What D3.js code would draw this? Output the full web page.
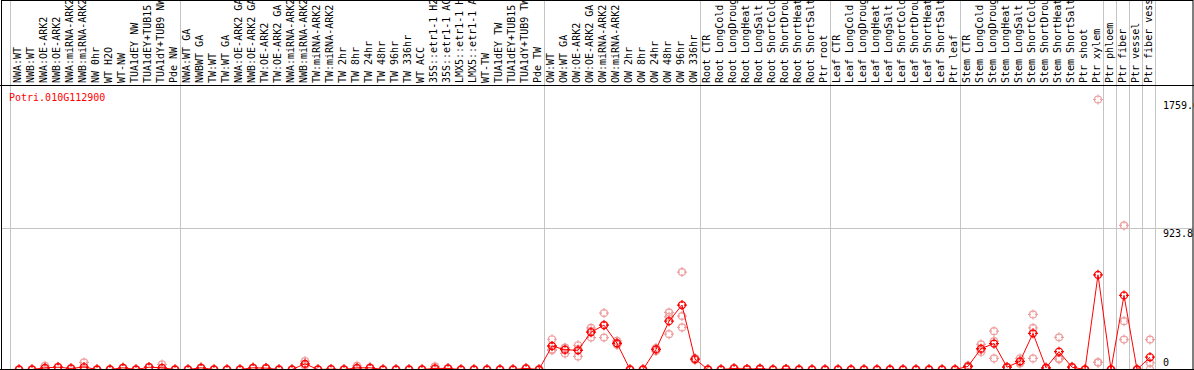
<!DOCTYPE html>
<html>
<head>
<meta charset="utf-8">
<script src="https://cdn.jsdelivr.net/npm/d3@7"></script>
<style>
  body { margin: 0; background: #fff; }
  svg { display: block; }
  text { font-family: "DejaVu Sans Mono", monospace; font-size: 10px; }
</style>
</head>
<body>
<svg id="chart" width="1194" height="370"></svg>
<script>
const gene = 'Potri.010G112900';

const samples = [
  'NWA:WT', 'NWB:WT', 'NWA:OE-ARK2', 'NWB:OE-ARK2', 'NWA:miRNA-ARK2', 'NWB:miRNA-ARK2',
  'NW 0hr', 'WT H2O', 'WT-NW', 'TUA1dEY NW', 'TUA1dEY+TUB15', 'TUA1dY+TUB9 NW', 'Pde NW',
  'NWA:WT GA', 'NWBWT GA', 'TW:WT', 'TW:WT GA', 'NWA:OE-ARK2 GA', 'NWB:OE-ARK2 GA',
  'TW:OE-ARK2', 'TW:OE-ARK2 GA', 'NWA:miRNA-ARK2', 'NWB:miRNA-ARK2', 'TW:miRNA-ARK2',
  'TW:miRNA-ARK2', 'TW 2hr', 'TW 8hr', 'TW 24hr', 'TW 48hr', 'TW 96hr', 'TW 336hr',
  'WT ACC', '35S::etr1-1 H2O', '35S::etr1-1 ACC', 'LMX5::etr1-1 H2O', 'LMX5::etr1-1 ACC',
  'WT-TW', 'TUA1dEY TW', 'TUA1dEY+TUB15', 'TUA1dY+TUB9 TW', 'Pde TW',
  'OW:WT', 'OW:WT GA', 'OW:OE-ARK2', 'OW:OE-ARK2 GA', 'OW:miRNA-ARK2', 'OW:miRNA-ARK2',
  'OW 2hr', 'OW 8hr', 'OW 24hr', 'OW 48hr', 'OW 96hr', 'OW 336hr',
  'Root CTR', 'Root LongCold', 'Root LongDrought', 'Root LongHeat', 'Root LongSalt',
  'Root ShortCold', 'Root ShortDrought', 'Root ShortHeat', 'Root ShortSalt', 'Ptr root',
  'Leaf CTR', 'Leaf LongCold', 'Leaf LongDrought', 'Leaf LongHeat', 'Leaf LongSalt',
  'Leaf ShortCold', 'Leaf ShortDrought', 'Leaf ShortHeat', 'Leaf ShortSalt', 'Ptr leaf',
  'Stem CTR', 'Stem LongCold', 'Stem LongDrought', 'Stem LongHeat', 'Stem LongSalt',
  'Stem ShortCold', 'Stem ShortDrought', 'Stem ShortHeat', 'Stem ShortSalt', 'Ptr shoot',
  'Ptr xylem', 'Ptr phloem', 'Ptr fiber', 'Ptr vessel', 'Ptr fiber vessel'
];

// index of the first sample of each group (last entry = end)
const groupBreaks = [0, 13, 41, 53, 63, 73, 84, 85, 86, 87, 88];

const means = [
  0, 0, 11, 15, 7, 16, 0, 0, 11, 0, 15, 11, 0,
  0, 11, 0, 0, 0, 11, 9, 0, 0, 37, 0, 2, 0, 11, 11, 0, 0, 0, 0, 7, 7, 0, 0, 0, 0, 0, 7, 0,
  153, 129, 125, 243, 289, 171, 0, 0, 131, 315, 420, 68,
  0, 0, 7, 3, 5, 0, 3, 0, 0, 0,
  0, 0, 0, 0, 0, 0, 0, 0, 0, 0,
  20, 136, 169, 15, 53, 236, 11, 116, 15, 0, 617,
  0, 483, 0, 80
];

const reps = [
  [0, 0, 0], [0, 0, 0], [24, 6, 3], [18, 14, 13], [9, 6, 6], [46, 1, 1], [0, 0, 0],
  [0, 0, 0], [13, 10, 10], [0, 0, 0], [17, 15, 13], [33, 0, 0], [0, 0, 0],
  [0, 0, 0], [14, 10, 9], [0, 0, 0], [0, 0, 0], [0, 0, 0], [13, 11, 9], [11, 9, 7],
  [0, 0, 0], [0, 0, 0], [55, 30, 26], [0, 0, 0], [3, 2, 1], [0, 0, 0], [24, 5, 4],
  [14, 10, 9], [0, 0, 0], [0, 0, 0], [0, 0, 0], [0, 0, 0], [20, 1, 0], [8, 7, 6],
  [0, 0, 0], [0, 0, 0], [0, 0, 0], [0, 0, 0], [0, 0, 0], [8, 7, 6], [0, 0, 0],
  [197, 131, 125], [140, 105, 142], [158, 85, 132], [271, 208, 250], [368, 208, 291],
  [186, 165, 162], [0, 0, 0], [0, 0, 0], [140, 120, 133], [372, 230, 343],
  [635, 348, 274], [75, 62, 67],
  [0, 0, 0], [0, 0, 0], [9, 7, 5], [4, 3, 2], [6, 5, 4], [0, 0, 0], [4, 3, 2],
  [0, 0, 0], [0, 0, 0], [0, 0, 0],
  [0, 0, 0], [0, 0, 0], [0, 0, 0], [0, 0, 0], [0, 0, 0], [0, 0, 0], [0, 0, 0],
  [0, 0, 0], [0, 0, 0], [0, 0, 0],
  [26, 18, 16], [164, 114, 130], [250, 72, 185], [18, 14, 13], [72, 48, 39],
  [359, 271, 72], [12, 11, 10], [210, 72, 66], [18, 15, 12], [0, 0, 0], [1759.6, 46, 46],
  [0, 0, 0], [939, 315, 195], [0, 0, 0], [195, 44, 0]
];

const W = 1194, H = 370;
const headerY = 86;
const plotLeft = 11, plotRight = 1155;

const svg = d3.select('#chart');

const x = d3.scaleBand()
  .domain(d3.range(samples.length))
  .range([plotLeft, plotRight]);

const maxVal = d3.max(reps, r => d3.max(r));
const y = d3.scaleLinear()
  .domain([0, maxVal * 1.05])
  .range([369.5, headerY]);

const yTicks = [0, y.domain()[1] / 2, maxVal];

// 点的位置：每列左边 + 8
const px = i => x(i) + 8;

// 横向网格线（中间值）
svg.append('line')
  .attr('x1', 1).attr('x2', W - 1)
  .attr('y1', Math.round(y(yTicks[1])) + 0.5)
  .attr('y2', Math.round(y(yTicks[1])) + 0.5)
  .attr('stroke', '#c4c4c4');

// 分组竖线
svg.append('g')
  .selectAll('line')
  .data(groupBreaks)
  .enter()
  .append('line')
  .attr('x1', d => (d === 0 ? plotLeft - 1 : plotLeft + d * x.bandwidth()) + 0.5)
  .attr('x2', d => (d === 0 ? plotLeft - 1 : plotLeft + d * x.bandwidth()) + 0.5)
  .attr('y1', 0)
  .attr('y2', H)
  .attr('stroke', '#c4c4c4');

// 样本名（竖排）
svg.append('g')
  .selectAll('text')
  .data(samples)
  .enter()
  .append('text')
  .attr('transform', (d, i) => `translate(${px(i) + 2},83) rotate(-90)`)
  .attr('fill', '#000')
  .text(d => d);

// 表头下边线与外框
svg.append('line')
  .attr('x1', 0).attr('x2', W)
  .attr('y1', headerY - 0.5).attr('y2', headerY - 0.5)
  .attr('stroke', '#000');
svg.append('rect')
  .attr('x', 1.5).attr('y', 0.5)
  .attr('width', W - 2.5).attr('height', H - 1)
  .attr('fill', 'none')
  .attr('stroke', '#000');

// 基因名
svg.append('text')
  .attr('x', 9).attr('y', 101)
  .attr('fill', '#ff0000')
  .text(gene);

// y 轴数值（右侧）
svg.append('g')
  .selectAll('text')
  .data(yTicks)
  .enter()
  .append('text')
  .attr('x', 1163)
  .attr('y', d => Math.min(y(d) + 9, 366))
  .attr('fill', '#000')
  .text(d => (d === 0 ? '0' : d3.format('.1f')(d)));

// 标记：圆圈 + 四个小刻度
function marker(r) {
  const p = d3.path();
  p.moveTo(r, 0);
  p.arc(0, 0, r, 0, Math.PI * 2);
  [[0, -1], [0, 1], [-1, 0], [1, 0]].forEach(([dx, dy]) => {
    p.moveTo(dx * (r - 1.5), dy * (r - 1.5));
    p.lineTo(dx * (r + 1.5), dy * (r + 1.5));
  });
  return p.toString();
}
const mk = marker(3.5);

// 重复样本（浅色）
const repPts = [];
reps.forEach((r, i) => r.forEach(v => repPts.push({ i, v })));
svg.append('g')
  .selectAll('path')
  .data(repPts)
  .enter()
  .append('path')
  .attr('transform', d => `translate(${px(d.i)},${y(d.v)})`)
  .attr('d', mk)
  .attr('fill', 'none')
  .attr('stroke', '#eea0a0')
  .attr('stroke-width', 1.2);

// 均值折线
const line = d3.line()
  .x((d, i) => px(i))
  .y(d => y(d));
svg.append('path')
  .datum(means)
  .attr('d', line)
  .attr('fill', 'none')
  .attr('stroke', '#ff0000')
  .attr('stroke-width', 1);

// 均值点
svg.append('g')
  .selectAll('path')
  .data(means)
  .enter()
  .append('path')
  .attr('transform', (d, i) => `translate(${px(i)},${y(d)})`)
  .attr('d', mk)
  .attr('fill', 'none')
  .attr('stroke', '#ff0000')
  .attr('stroke-width', 1.3);

// 底边
svg.append('line')
  .attr('x1', 0).attr('x2', W)
  .attr('y1', H - 0.5).attr('y2', H - 0.5)
  .attr('stroke', '#000');
</script>
</body>
</html>
